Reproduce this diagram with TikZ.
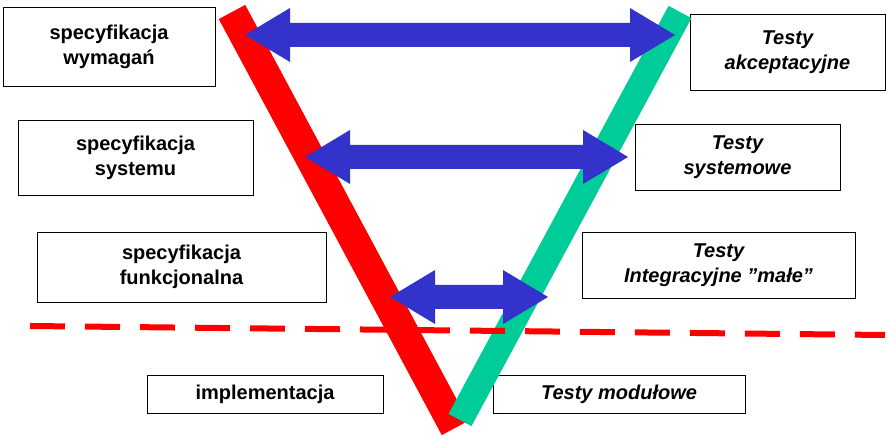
\documentclass[tikz,border=0pt]{standalone}
\usepackage{fontspec}
\setmainfont{Liberation Sans}
\usetikzlibrary{positioning}
\tikzset{box/.style={draw,thin,fill=white,align=center,font=\bfseries\fontsize{20}{25}\selectfont,inner sep=0pt},
test/.style={box,font=\bfseries\itshape\fontsize{20}{25}\selectfont}}
\definecolor{vblue}{RGB}{51,51,204}
\definecolor{vgreen}{RGB}{0,204,153}
% double arrow: y, left x, right x
\newcommand\dblarrow[3]{\fill[vblue] (#2,#1) -- ++(45,-27) -- ++(0,15) -- (#3-45,#1-12) -- ++(0,-15) -- (#3,#1) -- ++(-45,27) -- ++(0,-15) -- (#2+45,#1+12) -- ++(0,15) -- cycle;}
\begin{document}
\begin{tikzpicture}[x=1pt,y=-1pt]
\useasboundingbox (0,0) rectangle (889,435);
% left side
\node[box,minimum width=212,minimum height=79] (wym) at (109,47) {specyfikacja\\wymagań};
\node[box,minimum width=235,minimum height=75] (sys) at (135.5,157.5) {specyfikacja\\systemu};
\node[box,minimum width=289,minimum height=70] (fun) at (181.5,267) {specyfikacja\\funkcjonalna};
\node[box,minimum width=236,minimum height=38] (imp) at (265,394) {implementacja};
% right side
\node[test,minimum width=195,minimum height=76] (akc) at (787.5,52) {Testy\\akceptacyjne};
\node[test,minimum width=205,minimum height=66] (tsy) at (737.5,157) {Testy\\systemowe};
\node[test,minimum width=273,minimum height=66] (int) at (718.5,265) {Testy\\Integracyjne ''małe''};
\node[test,minimum width=252,minimum height=38] (mod) at (619,394) {Testy modułowe};
% V
\draw[red,line width=30] (232,12) -- (455,428);
\draw[vgreen,line width=26] (680,12) -- (460,420);
\draw[red,line width=6,dash pattern=on 35 off 20] (30,326) -- (885,335);
% arrows
\dblarrow{35}{245}{675}
\dblarrow{157}{305}{628}
\dblarrow{297}{390}{548}
\end{tikzpicture}
\end{document}
